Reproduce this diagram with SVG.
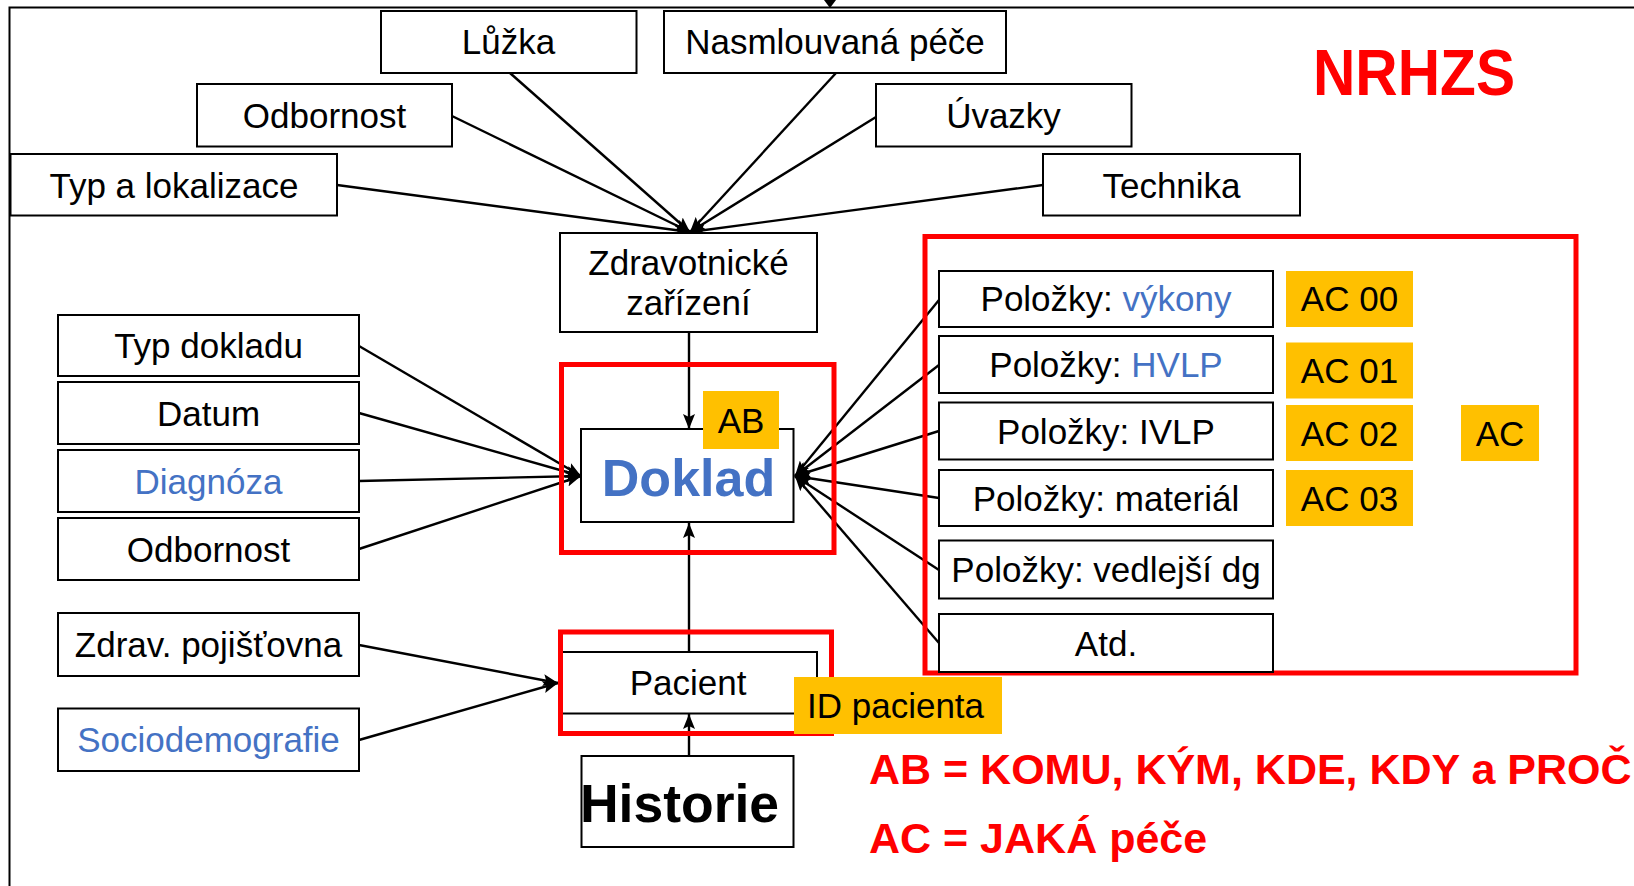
<svg xmlns="http://www.w3.org/2000/svg" width="1634" height="886" viewBox="0 0 1634 886">
<style>
text{font-family:"Liberation Sans",Arial,sans-serif;font-size:35px;fill:#000}
.box{fill:#fff;stroke:#000;stroke-width:2}
.yel{fill:#FFC000}
.red{fill:none;stroke:#FF0000;stroke-width:5}
.c{text-anchor:middle}
.blue{fill:#4472C4}
.rt{fill:#FF0000;font-weight:bold}
.ln{stroke:#000;stroke-width:2.4;fill:none;marker-end:url(#ah)}
</style>
<defs>
<marker id="ah" markerUnits="userSpaceOnUse" markerWidth="16" markerHeight="12" viewBox="0 0 16 12" refX="15" refY="6" orient="auto">
<path d="M0,0 L15,6 L0,12 L3,6 Z" fill="#000"/>
</marker>
</defs>
<rect width="1634" height="886" fill="#fff"/>
<path d="M9.5,886 V7.5 H1634" fill="none" stroke="#000" stroke-width="2"/>

<g id="connectors">
<path d="M824,0 L836,0 L830,8 Z" fill="#000"/>
<line class="ln" x1="510" y1="73" x2="690" y2="232"/>
<line class="ln" x1="836" y1="73" x2="690" y2="232"/>
<line class="ln" x1="452" y1="116" x2="690" y2="232"/>
<line class="ln" x1="876" y1="117" x2="690" y2="232"/>
<line class="ln" x1="337" y1="185" x2="690" y2="232"/>
<line class="ln" x1="1043" y1="185" x2="690" y2="232"/>
<line class="ln" x1="689" y1="333" x2="689" y2="429"/>
<line class="ln" x1="359" y1="346" x2="581" y2="476"/>
<line class="ln" x1="359" y1="413" x2="581" y2="476"/>
<line class="ln" x1="359" y1="481" x2="581" y2="476"/>
<line class="ln" x1="359" y1="549" x2="581" y2="476"/>
<line class="ln" x1="939" y1="300" x2="795" y2="476"/>
<line class="ln" x1="939" y1="365" x2="795" y2="476"/>
<line class="ln" x1="939" y1="431" x2="795" y2="476"/>
<line class="ln" x1="939" y1="498" x2="795" y2="476"/>
<line class="ln" x1="939" y1="570" x2="795" y2="476"/>
<line class="ln" x1="939" y1="643" x2="795" y2="476"/>
<line class="ln" x1="689" y1="652" x2="689" y2="523"/>
<line class="ln" x1="689" y1="756" x2="689" y2="714"/>
<line class="ln" x1="359" y1="645" x2="558" y2="683"/>
<line class="ln" x1="359" y1="740" x2="558" y2="683"/>
</g>

<g id="luzka"><rect class="box" x="381" y="11" width="255.5" height="62"/><text class="c" x="508.5" y="54">Lůžka</text></g>
<g id="nasmlouvana"><rect class="box" x="664" y="11" width="342" height="62"/><text class="c" x="835" y="54">Nasmlouvaná péče</text></g>
<g id="odbornost-top"><rect class="box" x="197" y="84" width="255" height="62.5"/><text class="c" x="324.5" y="128">Odbornost</text></g>
<g id="uvazky"><rect class="box" x="876" y="84" width="255.5" height="62.5"/><text class="c" x="1003.5" y="128">Úvazky</text></g>
<g id="typ-lokalizace"><rect class="box" x="10.5" y="154" width="326.5" height="61.5"/><text class="c" x="174" y="197.5">Typ a lokalizace</text></g>
<g id="technika"><rect class="box" x="1043" y="154" width="257" height="61.5"/><text class="c" x="1171.5" y="197.5">Technika</text></g>

<g id="zdravotnicke"><rect class="box" x="560" y="233" width="257" height="99"/><text class="c" x="688.5" y="274.5">Zdravotnické</text><text class="c" x="688.5" y="315">zařízení</text></g>

<g id="typ-dokladu"><rect class="box" x="58" y="315" width="301" height="61"/><text class="c" x="208.5" y="358">Typ dokladu</text></g>
<g id="datum"><rect class="box" x="58" y="382" width="301" height="62"/><text class="c" x="208.5" y="425.5">Datum</text></g>
<g id="diagnoza"><rect class="box" x="58" y="450" width="301" height="62"/><text class="c blue" x="208.5" y="493.5">Diagnóza</text></g>
<g id="odbornost"><rect class="box" x="58" y="518" width="301" height="62"/><text class="c" x="208.5" y="561.5">Odbornost</text></g>
<g id="zdrav-pojistovna"><rect class="box" x="58" y="613" width="301" height="63"/><text class="c" x="208.5" y="657">Zdrav. pojišťovna</text></g>
<g id="sociodemografie"><rect class="box" x="58" y="708.5" width="301" height="62.5"/><text class="c blue" x="208.5" y="752">Sociodemografie</text></g>

<g id="doklad">
<rect class="box" x="581" y="429" width="212.5" height="93"/>
<rect class="yel" x="703" y="391" width="76" height="58"/>
<text class="c" x="741" y="432.5">AB</text>
<text class="c blue" x="688.5" y="496" style="font-size:52px;font-weight:bold">Doklad</text>
<rect class="red" x="561.5" y="364.5" width="272.5" height="188"/>
</g>

<g id="pacient">
<rect class="box" x="560" y="652" width="257" height="61.5"/>
<text class="c" x="688" y="695">Pacient</text>
<rect class="red" x="560.5" y="632" width="271" height="101.5"/>
<rect class="yel" x="794" y="677" width="208" height="57"/>
<text x="807" y="718">ID pacienta</text>
</g>

<g id="historie"><rect class="box" x="581.5" y="756" width="212" height="91"/><text class="c" x="679.5" y="822" style="font-size:53.5px;font-weight:bold">Historie</text></g>

<g id="polozky">
<rect class="red" x="925" y="236.5" width="651" height="436.5"/>
<g id="vykony"><rect class="box" x="939" y="271" width="334" height="56"/><text class="c" x="1106" y="311">Položky: <tspan class="blue">výkony</tspan></text></g>
<g id="hvlp"><rect class="box" x="939" y="336" width="334" height="57"/><text class="c" x="1106" y="377">Položky: <tspan class="blue">HVLP</tspan></text></g>
<g id="ivlp"><rect class="box" x="939" y="402.5" width="334" height="57"/><text class="c" x="1106" y="443.5">Položky: IVLP</text></g>
<g id="material"><rect class="box" x="939" y="470" width="334" height="56"/><text class="c" x="1106" y="510.5">Položky: materiál</text></g>
<g id="vedlejsi"><rect class="box" x="939" y="540.5" width="334" height="58"/><text class="c" x="1106" y="582">Položky: vedlejší dg</text></g>
<g id="atd"><rect class="box" x="939" y="614" width="334" height="58"/><text class="c" x="1106" y="655.5">Atd.</text></g>
<g id="ac00"><rect class="yel" x="1286" y="271" width="127" height="56"/><text class="c" x="1349.5" y="311">AC 00</text></g>
<g id="ac01"><rect class="yel" x="1286" y="342.5" width="127" height="56"/><text class="c" x="1349.5" y="383">AC 01</text></g>
<g id="ac02"><rect class="yel" x="1286" y="405" width="127" height="56"/><text class="c" x="1349.5" y="445.5">AC 02</text></g>
<g id="ac03"><rect class="yel" x="1286" y="470" width="127" height="56"/><text class="c" x="1349.5" y="510.5">AC 03</text></g>
<g id="ac"><rect class="yel" x="1461" y="405" width="78" height="56"/><text class="c" x="1500" y="445.5">AC</text></g>
</g>

<g id="labels">
<text class="rt" x="1313" y="95" style="font-size:65px" textLength="202" lengthAdjust="spacingAndGlyphs">NRHZS</text>
<text class="rt" x="869" y="784" style="font-size:43px">AB = KOMU, KÝM, KDE, KDY a PROČ</text>
<text class="rt" x="869" y="853" style="font-size:43px">AC = JAKÁ péče</text>
</g>
</svg>
